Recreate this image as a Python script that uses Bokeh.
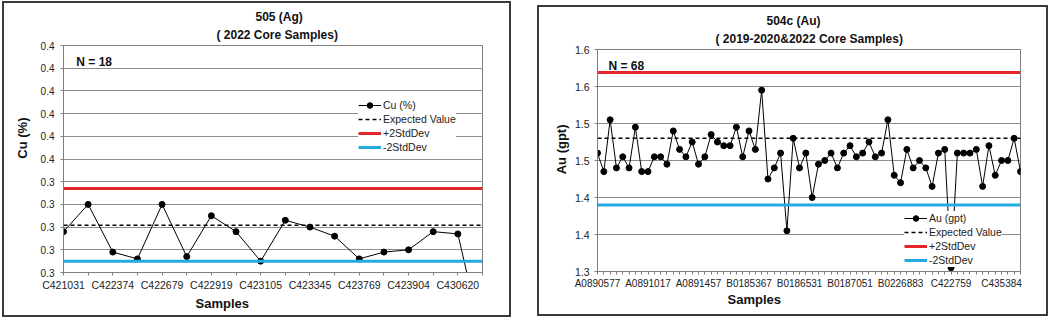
from bokeh.plotting import figure
from bokeh.layouts import row
from bokeh.models import (Range1d, FixedTicker, Legend, LegendItem, Label, Title)
from bokeh.embed import file_html
from bokeh.resources import INLINE

FONT = "Liberation Sans"
RED = "#e3262b"
BLUE = "#25a9e0"

# ---------------- Left chart: 505 (Ag) ----------------
cu_title1 = "505 (Ag)"
cu_title2 = "( 2022 Core Samples)"
cu_series = "Cu (%)"
cu_n_text = "N = 18"
cu_label_idx = [0, 2, 4, 6, 8, 10, 12, 14, 16]
cu_labels = ["C421031", "C422374", "C422679", "C422919", "C423105",
             "C423345", "C423769", "C423904", "C430620"]
cu_values = [0.318, 0.330, 0.309, 0.306, 0.330, 0.307, 0.325, 0.318, 0.305,
             0.323, 0.320, 0.316, 0.306, 0.309, 0.310, 0.318, 0.317, 0.270]
cu_expected = 0.3208
cu_plus2 = 0.3370
cu_minus2 = 0.3050
cu_yticks = [0.30, 0.31, 0.32, 0.33, 0.34, 0.35, 0.36, 0.37, 0.38, 0.39, 0.40]
cu_ytick_labels = ["0.3", "0.3", "0.3", "0.3", "0.3", "0.4", "0.4", "0.4", "0.4", "0.4", "0.4"]

# ---------------- Right chart: 504c (Au) ----------------
au_title1 = "504c (Au)"
au_title2 = "( 2019-2020&2022 Core Samples)"
au_series = "Au (gpt)"
au_n_text = "N = 68"
au_label_idx = [0, 8, 16, 24, 32, 40, 48, 56, 64]
au_labels = ["A0890577", "A0891017", "A0891457", "B0185367", "B0186531",
             "B0187051", "B0226883", "C422759", "C435384"]
au_values = [1.460, 1.435, 1.505, 1.440, 1.455, 1.440, 1.495, 1.435, 1.435, 1.455,
             1.455, 1.445, 1.490, 1.465, 1.455, 1.475, 1.445, 1.455, 1.485, 1.475,
             1.470, 1.470, 1.495, 1.455, 1.490, 1.465, 1.545, 1.425, 1.440, 1.460,
             1.355, 1.480, 1.440, 1.460, 1.400, 1.445, 1.450, 1.460, 1.440, 1.460,
             1.470, 1.455, 1.460, 1.475, 1.455, 1.460, 1.505, 1.430, 1.420, 1.465,
             1.440, 1.450, 1.440, 1.415, 1.460, 1.465, 1.305, 1.460, 1.460, 1.460,
             1.465, 1.415, 1.470, 1.430, 1.450, 1.450, 1.480, 1.435]
au_expected = 1.480
au_plus2 = 1.569
au_minus2 = 1.390
au_yticks = [1.30, 1.35, 1.40, 1.45, 1.50, 1.55, 1.60]
au_ytick_labels = ["1.3", "1.4", "1.4", "1.5", "1.5", "1.6", "1.6"]


def make_panel(values, label_idx, labels, yticks, ytick_labels, expected, plus2, minus2,
               series, titles, n_text, ytitle, size, margin, frame, legend_loc,
               title_offsets, n_pos, samples_offset, samples_standoff, ytitle_offset,
               ytitle_standoff, xlab_size, ylab_size, ylab_standoff):
    n = len(values)
    xs = list(range(n))
    W, H = size
    left, right, top, bottom = frame
    p = figure(width=W, height=H, x_range=Range1d(0, n - 1),
               y_range=Range1d(yticks[0], yticks[-1]),
               output_backend="svg", toolbar_location=None,
               min_border_left=left, min_border_right=W - right,
               min_border_top=top, min_border_bottom=H - bottom,
               margin=margin)
    p.styles = {"box-shadow": "0 0 0 2px #3a3a3a"}
    p.background_fill_color = "white"
    p.border_fill_color = "white"
    p.outline_line_color = "#7f7f7f"

    # x axis
    p.xaxis.ticker = FixedTicker(ticks=xs)
    ov = {i: "" for i in xs}
    for i, lb in zip(label_idx, labels):
        ov[i] = lb
    p.xaxis.major_label_overrides = ov
    p.xaxis.minor_tick_line_color = None
    p.xaxis.major_tick_in = 0
    p.xaxis.major_tick_out = 3
    p.xaxis.major_tick_line_color = "#7f7f7f"
    p.xaxis.axis_line_color = "#7f7f7f"
    p.xaxis.major_label_standoff = 3
    p.xaxis.major_label_text_font = FONT
    p.xaxis.major_label_text_font_size = xlab_size
    p.xaxis.major_label_text_color = "#222222"

    # y axis
    p.yaxis.ticker = FixedTicker(ticks=yticks)
    p.yaxis.major_label_overrides = {t: s for t, s in zip(yticks, ytick_labels)}
    p.yaxis.minor_tick_line_color = None
    p.yaxis.major_tick_in = 0
    p.yaxis.major_tick_out = 3
    p.yaxis.major_tick_line_color = "#7f7f7f"
    p.yaxis.axis_line_color = "#7f7f7f"
    p.yaxis.major_label_standoff = ylab_standoff
    p.yaxis.major_label_text_font = FONT
    p.yaxis.major_label_text_font_size = ylab_size
    p.yaxis.major_label_text_color = "#222222"

    p.xgrid.grid_line_color = None
    p.ygrid.grid_line_color = "#8c8c8c"
    p.ygrid.grid_line_width = 1

    r_line = p.line(xs, values, line_color="black", line_width=1)
    r_pts = p.scatter(xs, values, size=6, fill_color="black", line_color="black")
    r_exp = p.line([xs[0], xs[-1]], [expected, expected], line_color="black",
                   line_width=1.5, line_dash="4 3")
    r_plus = p.line([xs[0], xs[-1]], [plus2, plus2], line_color=RED, line_width=3)
    r_minus = p.line([xs[0], xs[-1]], [minus2, minus2], line_color=BLUE, line_width=3)

    legend = Legend(items=[
        LegendItem(label=series, renderers=[r_line, r_pts]),
        LegendItem(label="Expected Value", renderers=[r_exp]),
        LegendItem(label="+2StdDev", renderers=[r_plus]),
        LegendItem(label="-2StdDev", renderers=[r_minus]),
    ], location=legend_loc)
    legend.label_text_font = FONT
    legend.label_text_font_size = "10.5px"
    legend.label_text_color = "#222222"
    legend.glyph_width = 23
    legend.glyph_height = 14
    legend.label_height = 14
    legend.label_standoff = 2
    legend.spacing = 0
    legend.padding = 3
    legend.margin = 0
    legend.border_line_color = None
    legend.background_fill_color = "white"
    legend.background_fill_alpha = 1.0
    p.add_layout(legend)

    tstyle = dict(text_font=FONT, text_font_style="bold", text_color="#111111")
    # titles (added closest-first)
    p.add_layout(Title(text=titles[1], align="left", offset=title_offsets[1],
                       standoff=8, text_font_size="12px", **tstyle), "above")
    p.add_layout(Title(text=titles[0], align="left", offset=title_offsets[0],
                       standoff=-5, text_font_size="12px", **tstyle), "above")
    # axis titles
    p.add_layout(Title(text="Samples", align="left", offset=samples_offset,
                       standoff=samples_standoff, text_font_size="13px", **tstyle), "below")
    p.add_layout(Title(text=ytitle, align="right", offset=ytitle_offset,
                       standoff=ytitle_standoff, text_font_size="13px", **tstyle), "left")

    # "N = .." note, placed in data space (index, value)
    p.add_layout(Label(x=n_pos[0], y=n_pos[1], text=n_text, text_align="left",
                       text_baseline="middle", text_font_size="12px", **tstyle))
    return p


p1 = make_panel(cu_values, cu_label_idx, cu_labels, cu_yticks, cu_ytick_labels,
                cu_expected, cu_plus2, cu_minus2, cu_series,
                (cu_title1, cu_title2), cu_n_text, "Cu (%)",
                size=(505, 312), margin=(3, 16, 6, 4), frame=(56, 478, 42, 271),
                legend_loc=(295, 118), title_offsets=(192, 153), n_pos=(0.52, 0.3926),
                samples_offset=132, samples_standoff=0, ytitle_offset=72,
                ytitle_standoff=16, xlab_size="10.5px", ylab_size="10px", ylab_standoff=6)

p2 = make_panel(au_values, au_label_idx, au_labels, au_yticks, au_ytick_labels,
                au_expected, au_plus2, au_minus2, au_series,
                (au_title1, au_title2), au_n_text, "Au (gpt)",
                size=(507, 307), margin=(7, 4, 7, 14), frame=(58, 481, 40, 264),
                legend_loc=(307, 4), title_offsets=(169, 118), n_pos=(1.74, 1.578),
                samples_offset=130, samples_standoff=-3, ytitle_offset=75,
                ytitle_standoff=5, xlab_size="10px", ylab_size="10.5px", ylab_standoff=5)

layout = row(p1, p2)
open("out.html", "w").write(file_html(layout, INLINE))
